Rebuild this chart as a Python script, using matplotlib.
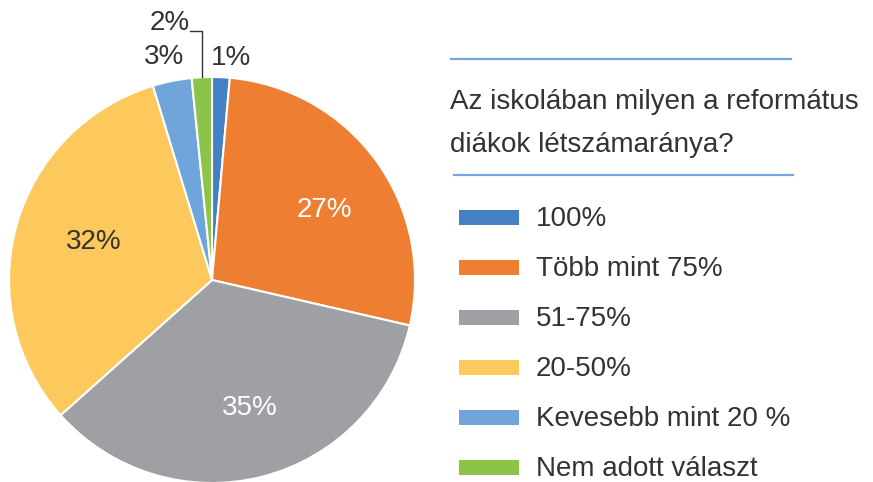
import matplotlib.pyplot as plt
import numpy as np
from matplotlib.patches import Rectangle

# data
categories = ['100%', 'Több mint 75%', '51-75%', '20-50%', 'Kevesebb mint 20 %', 'Nem adott választ']
values = [1.4, 27.2, 34.8, 31.9, 3.1, 1.6]
pct_labels = ['1%', '27%', '35%', '32%', '3%', '2%']
colors = ['#4380C4', '#EE7F32', '#9FA0A3', '#FDC95D', '#6FA5DA', '#8BC448']
title_lines = ['Az iskolában milyen a református', 'diákok létszámaránya?']

W, H = 873, 482
plt.rcParams['font.family'] = ['Liberation Sans', 'DejaVu Sans']
txt_col = '#333333'
fs = 20

fig = plt.figure(figsize=(W / 100, H / 100), dpi=100)

# pie axes: center (212, 280) px from top, radius 203 px
cx, cy, r = 212, 280, 203
ax = fig.add_axes([(cx - r) / W, (H - cy - r) / H, 2 * r / W, 2 * r / H])
wedges, _ = ax.pie(values, colors=colors, startangle=90, counterclock=False,
                   wedgeprops=dict(edgecolor='white', linewidth=1.5))
ax.set_xlim(-1, 1)
ax.set_ylim(-1, 1)
ax.set_aspect('equal')
ax.axis('off')

# slice labels: (radius, angle shift in degrees, colour)
label_pos = [(1.10, -2.4, txt_col), (0.653, -4.1, 'white'), (0.658, 2.1, 'white'),
             (0.61, -2.1, txt_col), (1.125, 0.8, txt_col), None]
for i, w in enumerate(wedges):
    mid = (w.theta1 + w.theta2) / 2
    if label_pos[i] is None:
        # leader line label
        a = np.deg2rad(mid)
        ex, ey = np.cos(a), np.sin(a)
        ly = 1.229
        ax.plot([ex, ex, ex - 0.058], [ey, ly, ly], color=txt_col, lw=1, clip_on=False)
        ax.text(ex - 0.058, 1.266, pct_labels[i], ha='right', va='center', fontsize=fs,
                color=txt_col, clip_on=False)
        continue
    d, shift, col = label_pos[i]
    a = np.deg2rad(mid + shift)
    ax.text(d * np.cos(a), d * np.sin(a), pct_labels[i], ha='center', va='center',
            fontsize=fs, color=col, clip_on=False)

# title with lines
line_col = '#74A7DC'
fig.add_artist(plt.Line2D([451 / W, 791 / W], [1 - 59 / H, 1 - 59 / H], color=line_col, lw=1.6))
fig.add_artist(plt.Line2D([454 / W, 793 / W], [1 - 175 / H, 1 - 175 / H], color=line_col, lw=1.6))
for k, t in enumerate(title_lines):
    fig.text(450 / W, 1 - (109 + 42.5 * k) / H, t, ha='left', va='baseline', fontsize=fs, color=txt_col)

# legend
for i, (lab, col) in enumerate(zip(categories, colors)):
    yc = 217 + 50 * i
    fig.patches.append(Rectangle((459 / W, 1 - (yc + 7.5) / H), 60 / W, 15 / H,
                                 transform=fig.transFigure, facecolor=col, edgecolor='none'))
    fig.text(536 / W, 1 - (yc + 8.5) / H, lab, ha='left', va='baseline', fontsize=fs, color=txt_col)

fig.savefig('out.png', dpi=100)
